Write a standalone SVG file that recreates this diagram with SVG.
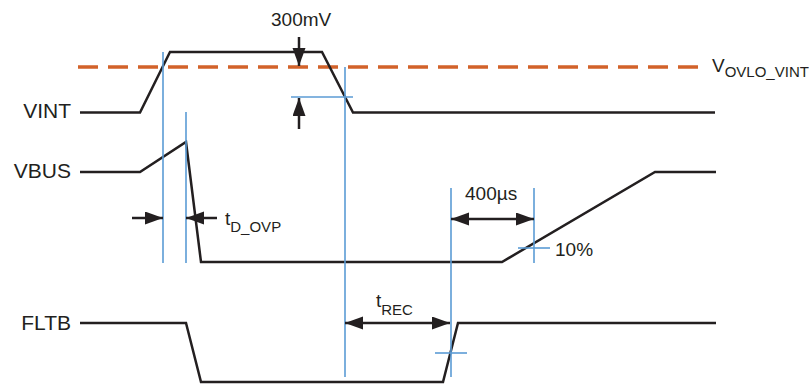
<svg xmlns="http://www.w3.org/2000/svg" width="809" height="385" viewBox="0 0 809 385">
<style>
.sig{fill:none;stroke:#231F20;stroke-width:2.5;stroke-linejoin:miter}
.ref{fill:none;stroke:#5B9BD5;stroke-width:1.6}
.dim{fill:none;stroke:#231F20;stroke-width:2.5}
.thr{fill:none;stroke:#D2622A;stroke-width:3.5;stroke-dasharray:20 10}
.lbl{font-family:"Liberation Sans",Arial,sans-serif;font-size:21px;fill:#231F20}
.ann{font-family:"Liberation Sans",Arial,sans-serif;font-size:19px;fill:#231F20}
.sub{font-size:15px}
</style>
<defs>
<marker id="ah" markerUnits="userSpaceOnUse" markerWidth="19" markerHeight="14" refX="18" refY="6.5" orient="auto-start-reverse">
<path d="M0,0 L18,6.5 L0,13 Z" fill="#231F20"/>
</marker>
</defs>
<g id="threshold">
<line class="thr" x1="78" y1="67" x2="703" y2="67"/>
<text class="ann" x="712" y="72">V<tspan class="sub" dy="5">OVLO_VINT</tspan></text>
</g>
<g id="vint">
<text class="lbl" x="71" y="118" text-anchor="end">VINT</text>
<polyline class="sig" points="80,112.5 140,112.5 170,52 322,52 353,112.5 715,112.5"/>
</g>
<g id="vbus">
<text class="lbl" x="71" y="178" text-anchor="end">VBUS</text>
<polyline class="sig" points="80,172 140,172 186,142 201,262 502,262 655,172 716,172"/>
</g>
<g id="fltb">
<text class="lbl" x="71" y="330" text-anchor="end">FLTB</text>
<polyline class="sig" points="80,323 186,323 201,382 443,382 458,323 716,323"/>
</g>
<g id="guides">
<line class="ref" x1="163" y1="52" x2="163" y2="263"/>
<line class="ref" x1="186" y1="112" x2="186" y2="263"/>
<line class="ref" x1="345" y1="67" x2="345" y2="377"/>
<line class="ref" x1="291" y1="97" x2="353" y2="97"/>
<line class="ref" x1="451" y1="188" x2="451" y2="377"/>
<line class="ref" x1="534" y1="188" x2="534" y2="263"/>
<line class="ref" x1="518" y1="248" x2="550" y2="248"/>
<line class="ref" x1="435" y1="353" x2="467" y2="353"/>
</g>
<g id="connectors">
<line class="dim" x1="299" y1="37" x2="299" y2="66" marker-end="url(#ah)"/>
<line class="dim" x1="299" y1="129" x2="299" y2="98" marker-end="url(#ah)"/>
<line class="dim" x1="132" y1="218" x2="163" y2="218" marker-end="url(#ah)"/>
<line class="dim" x1="217" y1="218" x2="186" y2="218" marker-end="url(#ah)"/>
<line class="dim" x1="451" y1="219" x2="534" y2="219" marker-start="url(#ah)" marker-end="url(#ah)"/>
<line class="dim" x1="345" y1="323" x2="450" y2="323" marker-start="url(#ah)" marker-end="url(#ah)"/>
</g>
<g id="labels">
<text class="ann" x="271" y="26">300mV</text>
<text class="ann" x="225" y="225">t<tspan class="sub" dy="7">D_OVP</tspan></text>
<text class="ann" x="465" y="200">400µs</text>
<text class="ann" x="555" y="256">10%</text>
<text class="ann" x="376" y="307">t<tspan class="sub" dy="8">REC</tspan></text>
</g>
</svg>
